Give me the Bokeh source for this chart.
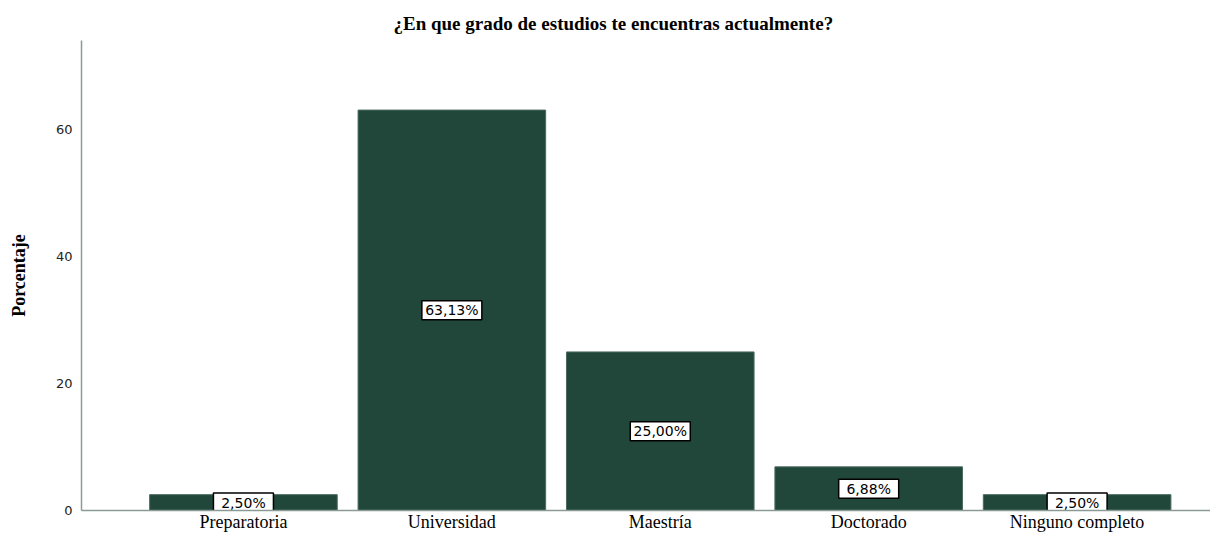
from bokeh.plotting import figure
from bokeh.models import ColumnDataSource, FixedTicker, Range1d
from bokeh.core.properties import value
from bokeh.embed import file_html
from bokeh.resources import INLINE

categories = ["Preparatoria", "Universidad", "Maestría", "Doctorado", "Ninguno completo"]
percentages = [2.50, 63.13, 25.00, 6.88, 2.50]
y_ticks = [0, 20, 40, 60]

xs = list(range(len(categories)))
labels = [f"{v:.2f}".replace(".", ",") + "%" for v in percentages]
src = ColumnDataSource(dict(x=xs, top=percentages, mid=[v / 2 for v in percentages],
                            label=labels))

p = figure(width=1210, height=534, output_backend="svg", toolbar_location=None,
           x_range=Range1d(-0.777, 4.640), y_range=Range1d(0, 74.1),
           title="¿En que grado de estudios te encuentras actualmente?")
p.min_border_left = 81
p.min_border_right = 0
p.min_border_top = 40
p.min_border_bottom = 10

p.title.align = "left"
p.title.offset = 312
p.title.standoff = 13
p.title.text_font = "Liberation Serif"
p.title.text_font_size = "19px"
p.title.text_font_style = "bold"
p.title.text_color = "black"

p.vbar(x="x", top="top", width=0.9, source=src, fill_color="#21473a",
       line_color="#4a6a5e", line_width=1)

# value labels in white boxes
p.rect(x="x", y="mid", width=60, height=19, width_units="screen", height_units="screen",
       source=src, fill_color="white", line_color="black", line_width=1.5)
p.text(x="x", y="mid", text="label", source=src, text_align="center",
       text_baseline="middle", text_font=value("DejaVu Sans"),
       text_font_size=value("14px"), text_color="black")

p.xgrid.visible = False
p.ygrid.visible = False
p.outline_line_color = None

p.xaxis.ticker = FixedTicker(ticks=xs)
p.xaxis.major_label_overrides = {i: c for i, c in enumerate(categories)}
p.xaxis.major_tick_out = 0
p.xaxis.major_tick_in = 0
p.xaxis.major_tick_line_color = None
p.xaxis.minor_tick_line_color = None
p.xaxis.axis_line_color = "#8a9a94"
p.xaxis.axis_line_width = 1.5
p.xaxis.major_label_text_font = "Liberation Serif"
p.xaxis.major_label_text_font_size = "18px"
p.xaxis.major_label_text_color = "black"
p.xaxis.major_label_standoff = 1

p.yaxis.ticker = FixedTicker(ticks=y_ticks)
p.yaxis.major_tick_out = 0
p.yaxis.major_tick_in = 0
p.yaxis.major_tick_line_color = None
p.yaxis.minor_tick_line_color = None
p.yaxis.axis_line_color = "#8a9a94"
p.yaxis.axis_line_width = 1.5
p.yaxis.major_label_text_font = "DejaVu Sans"
p.yaxis.major_label_text_font_size = "13px"
p.yaxis.major_label_text_color = "#222222"
p.yaxis.major_label_standoff = 9
p.yaxis.axis_label = "Porcentaje"
p.yaxis.axis_label_text_font = "Liberation Serif"
p.yaxis.axis_label_text_font_size = "18px"
p.yaxis.axis_label_text_font_style = "bold"
p.yaxis.axis_label_text_color = "black"
p.yaxis.axis_label_standoff = 24

open("out.html", "w").write(file_html(p, INLINE))
